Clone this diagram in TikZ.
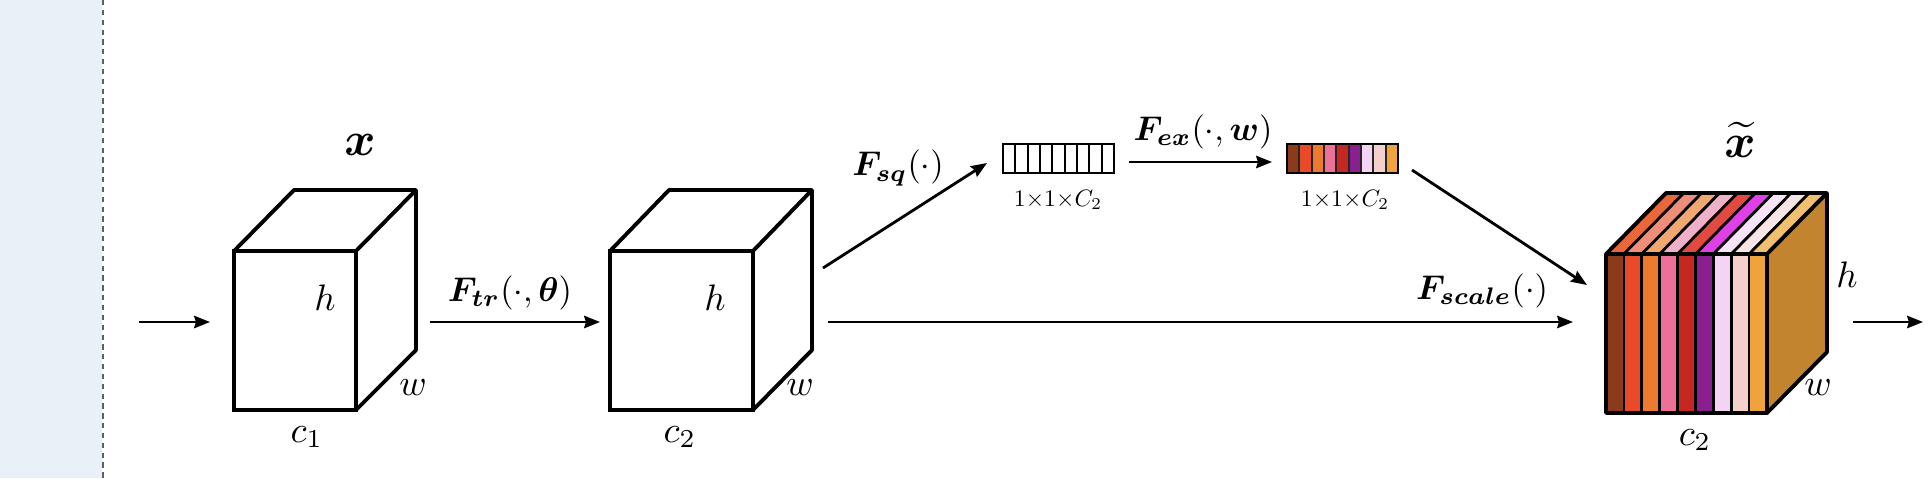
\documentclass[tikz,border=0pt]{standalone}
\usepackage{amsmath,bm}
\usetikzlibrary{arrows.meta,calc}
\definecolor{bgblue}{HTML}{EAF0F8}
\definecolor{dashgray}{HTML}{606060}
\definecolor{fa}{HTML}{8B3A1A}
\definecolor{fb}{HTML}{E84A2A}
\definecolor{fc}{HTML}{EC7A30}
\definecolor{fd}{HTML}{EC7098}
\definecolor{fe}{HTML}{C42820}
\definecolor{ff}{HTML}{8A2090}
\definecolor{fg}{HTML}{F4D4F4}
\definecolor{fh}{HTML}{F4D0CC}
\definecolor{fi}{HTML}{F0A23C}
\definecolor{ta}{HTML}{E8683A}
\definecolor{tb}{HTML}{EE8E78}
\definecolor{tc}{HTML}{F0A870}
\definecolor{td}{HTML}{F0B0C8}
\definecolor{te}{HTML}{E04A40}
\definecolor{tf}{HTML}{E040E8}
\definecolor{tg}{HTML}{F6E4F6}
\definecolor{th}{HTML}{F8E4E4}
\definecolor{ti}{HTML}{F0C070}
\definecolor{sidec}{HTML}{C2842E}
\tikzset{
  cubeface/.style={draw, line width=2.2pt, inner sep=0pt, outer sep=0pt},
  edge/.style={line width=2.2pt, line join=round},
  stripe/.style={draw=black, line width=1.5pt, line join=round},
  vecbox/.style={draw, line width=1.1pt, inner sep=0pt, outer sep=0pt, minimum width=2.22cm, minimum height=0.58cm},
  arr/.style={line width=1.6pt, -{Stealth[length=9pt,width=7pt,inset=1pt]}},
  lbl/.style={inner sep=0pt, scale=2.1},
  flbl/.style={inner sep=0pt, scale=1.95},
  biglbl/.style={inner sep=0pt, scale=2.7},
  smalllbl/.style={inner sep=0pt, scale=1.35},
}
\begin{document}
\begin{tikzpicture}[x=0.02cm,y=-0.02cm]
\fill[bgblue] (0,0) rectangle (102,478);
\useasboundingbox (0,0) rectangle (1928,478);
\draw[dashgray, line width=1.1pt, dash pattern=on 3pt off 2.6pt] (103,0) -- (103,478);

% cube 1
\node[cubeface, minimum width=2.44cm, minimum height=3.18cm] (c1) at (295,330.5) {};
\coordinate (c1b) at ($(c1.north east)+(60,-61)$);
\draw[edge] (c1.north west) -- ++(60,-61) -- (c1b) -- ++(0,160) -- (c1.south east);
\draw[edge] (c1.north east) -- (c1b);

% cube 2
\node[cubeface, minimum width=2.86cm, minimum height=3.18cm] (c2) at (681.5,330.5) {};
\coordinate (c2b) at ($(c2.north east)+(59,-61)$);
\draw[edge] (c2.north west) -- ++(59,-61) -- (c2b) -- ++(0,160) -- (c2.south east);
\draw[edge] (c2.north east) -- (c2b);

% cube 3
\node[inner sep=0pt, outer sep=0pt, minimum width=3.22cm, minimum height=3.18cm] (c3) at (1686.5,333.5) {};
\coordinate (c3b) at ($(c3.north east)+(60,-61)$);
\fill[sidec] (c3.north east) -- (c3b) -- ++(0,159) -- (c3.south east) -- cycle;
\foreach \fc/\tc [count=\i from 0] in {fa/ta,fb/tb,fc/tc,fd/td,fe/te,ff/tf,fg/tg,fh/th,fi/ti}{
  \filldraw[stripe, fill=\fc] ($(c3.north west)+(\i*17.889,0)$) rectangle ++(17.889,159);
  \filldraw[stripe, fill=\tc] ($(c3.north west)+(\i*17.889,0)$) -- ++(60,-61) -- ++(17.889,0) -- ++(-60,61) -- cycle;
}
\draw[edge] (c3.north west) rectangle (c3.south east);
\draw[edge] (c3.north west) -- ++(60,-61) -- (c3b) -- ++(0,159) -- (c3.south east);
\draw[edge] (c3.north east) -- (c3b);

% vectors
\node[vecbox] (v1) at (1058.5,158.5) {};
\foreach \i in {1,...,8}{
  \draw[line width=1.1pt] ($(v1.north west)+(\i*12.333,0)$) -- ++(0,29);
}
\node[inner sep=0pt, outer sep=0pt, minimum width=2.22cm, minimum height=0.58cm] (v2) at (1342.5,158.5) {};
\foreach \fc [count=\i from 0] in {fa,fb,fc,fd,fe,ff,fg,fh,fi}{
  \filldraw[fill=\fc, draw=black!85, line width=1pt] ($(v2.north west)+(\i*12.333,0)$) rectangle ++(12.333,29);
}
\draw[line width=1.3pt] (v2.north west) rectangle (v2.south east);

% arrows
\coordinate (m) at (0,322);
\coordinate (start) at (139,322);
\coordinate (out) at (1923,322);
\draw[arr] (start) -- ($(c1.west |- m)+(-24,0)$);
\draw[arr] ($(c1b |- m)+(14,0)$) -- ($(c2.west |- m)+(-10,0)$);
\draw[arr] ($(c2b |- m)+(16,0)$) -- ($(c3.west |- m)+(-33,0)$);
\draw[arr] ($(c3b |- m)+(26,0)$) -- (out);
\draw[arr] ($(c2b)+(11,78)$) -- ($(v1.west)+(-16,4.5)$);
\draw[arr] ($(v1.east)+(15,3.5)$) -- ($(v2.west)+(-15,3.5)$);
\draw[arr] ($(v2.east)+(14,11.5)$) -- ($(c3.west)+(-19,-48.5)$);

% labels
\node[biglbl] (lx) at (360,145) {$\bm{x}$};
\node[biglbl] (lxt) at (1740,140) {$\widetilde{\bm{x}}$};
\node[lbl] (h1) at (325,298) {$h$};
\node[lbl] (h2) at (715,298) {$h$};
\node[lbl] (h3) at (1847,275) {$h$};
\node[lbl] (w1) at (413,388) {$w$};
\node[lbl] (w2) at (800,388) {$w$};
\node[lbl] (w3) at (1818,388) {$w$};
\node[lbl] (cc1) at (307,437) {$c_1$};
\node[lbl] (cc2) at (680,437) {$c_2$};
\node[lbl] (cc3) at (1695,440) {$c_2$};
\node[flbl] (ftr) at (510,293) {$\bm{F}_{\bm{tr}}(\cdot,\bm{\theta})$};
\node[flbl] (fsq) at (898,168) {$\bm{F}_{\bm{sq}}(\cdot)$};
\node[flbl] (fex) at (1203,132) {$\bm{F}_{\bm{ex}}(\cdot,\bm{w})$};
\node[flbl] (fsc) at (1482,291) {$\bm{F}_{\bm{scale}}(\cdot)$};
\node[smalllbl] (s1) at (1058,200) {$1{\times}1{\times}C_2$};
\node[smalllbl] (s2) at (1345,200) {$1{\times}1{\times}C_2$};
\end{tikzpicture}
\end{document}
